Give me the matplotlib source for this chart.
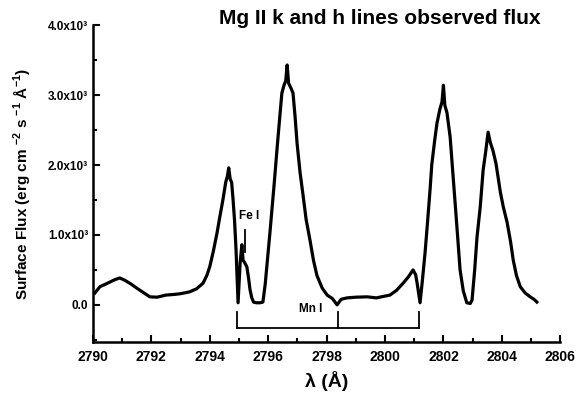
import matplotlib
matplotlib.use("Agg")
import matplotlib.pyplot as plt
from matplotlib.ticker import MultipleLocator, FixedLocator

plt.rcParams['font.family'] = ['Liberation Sans', 'DejaVu Sans']
plt.rcParams['mathtext.fontset'] = 'custom'
plt.rcParams['mathtext.bf'] = 'Liberation Sans:bold'
plt.rcParams['mathtext.rm'] = 'Liberation Sans:bold'

# Observed spectrum
wavelength = [2790.07, 2790.24, 2790.5, 2790.75, 2790.92, 2791.1, 2791.3, 2791.5, 2791.75, 2791.95,
              2792.2, 2792.5, 2792.8, 2793.0, 2793.3, 2793.55, 2793.77, 2793.9, 2794.0, 2794.12,
              2794.25, 2794.35, 2794.45, 2794.55, 2794.6, 2794.65, 2794.7, 2794.75, 2794.8, 2794.85,
              2794.9, 2794.97, 2795.04, 2795.1, 2795.14, 2795.2, 2795.27, 2795.33, 2795.38, 2795.44,
              2795.5, 2795.6, 2795.72, 2795.82, 2795.9, 2796.06, 2796.2, 2796.3, 2796.4, 2796.47,
              2796.55, 2796.6, 2796.65, 2796.7, 2796.78, 2796.85, 2796.92, 2796.99, 2797.09, 2797.2,
              2797.3, 2797.43, 2797.55, 2797.67, 2797.85, 2798.02, 2798.2, 2798.36, 2798.5, 2798.7,
              2799.0, 2799.39, 2799.7, 2800.17, 2800.4, 2800.62, 2800.8, 2800.96, 2801.05, 2801.1,
              2801.2, 2801.28, 2801.37, 2801.45, 2801.55, 2801.6, 2801.7, 2801.78, 2801.88, 2801.95,
              2802.0, 2802.05, 2802.12, 2802.23, 2802.32, 2802.4, 2802.5, 2802.57, 2802.68, 2802.8,
              2802.92, 2802.98, 2803.07, 2803.15, 2803.26, 2803.36, 2803.45, 2803.53, 2803.6, 2803.7,
              2803.8, 2803.87, 2803.95, 2804.05, 2804.18, 2804.3, 2804.39, 2804.5, 2804.63, 2804.8,
              2804.97, 2805.1, 2805.2]
flux = [170, 260, 310, 360, 385, 350, 300, 240, 170, 115,
        110, 140, 150, 160, 185, 230, 310, 420, 545, 760,
        1030, 1270, 1500, 1760, 1830, 1960, 1800, 1750, 1500, 1200,
        790, 30, 600, 860, 640, 600, 545, 380, 215, 100,
        40, 30, 30, 40, 300, 1030, 1700, 2210, 2700, 3030,
        3150, 3200, 3430, 3170, 3100, 3030, 2700, 2310, 1900, 1550,
        1220, 930, 640, 420, 240, 140, 90, 0, 80, 100,
        110, 115, 100, 140, 210, 310, 400, 500, 430, 310,
        30, 350, 740, 1150, 1690, 2000, 2350, 2600, 2800, 2900,
        3140, 2850, 2750, 2400, 1900, 1460, 900, 500, 200, 30,
        20, 70, 500, 970, 1400, 1930, 2200, 2470, 2330, 2200,
        2020, 1830, 1610, 1400, 1180, 900, 640, 420, 260, 170,
        115, 80, 40]

# Mn I marker positions
mn_lines = [2794.93, 2798.39, 2801.16]
fe_line = 2795.2

x_ticks = [2790, 2792, 2794, 2796, 2798, 2800, 2802, 2804, 2806]
y_ticks = [0, 1000, 2000, 3000, 4000]
y_tick_labels = ['0.0', '1.0x10³', '2.0x10³', '3.0x10³', '4.0x10³']

fig = plt.figure(figsize=(5.77, 3.99), dpi=100)
ax = fig.add_axes([0.161, 0.143, 0.810, 0.794])

ax.plot(wavelength, flux, color='black', lw=2.3, solid_joinstyle='round')

# Mn I bracket
for m in mn_lines:
    ax.plot([m, m], [-100, -330], color='black', lw=1.3)
ax.plot([mn_lines[0], mn_lines[-1]], [-330, -330], color='black', lw=1.3)
ax.text(2797.45, -60, 'Mn I', fontsize=8.5, fontweight='bold', ha='center', va='center')

# Fe I marker
ax.plot([fe_line, fe_line], [760, 1070], color='black', lw=1.3)
ax.text(2795.36, 1270, 'Fe I', fontsize=8.5, fontweight='bold', ha='center', va='center')

ax.set_xlim(2790, 2806)
ax.set_ylim(-530, 4000)
ax.xaxis.set_major_locator(FixedLocator(x_ticks))
ax.xaxis.set_minor_locator(MultipleLocator(1))
ax.yaxis.set_major_locator(FixedLocator(y_ticks))
ax.yaxis.set_minor_locator(MultipleLocator(500))
ax.set_xticklabels([str(t) for t in x_ticks], fontsize=10, fontweight='bold')
ax.set_yticklabels(y_tick_labels, fontsize=8.5, fontweight='bold')

for s in ['top', 'right']:
    ax.spines[s].set_visible(False)
for s in ['left', 'bottom']:
    ax.spines[s].set_linewidth(1.8)
ax.tick_params(which='both', direction='in', width=1.5)
ax.tick_params(which='major', length=5)
ax.tick_params(which='minor', length=3)
ax.tick_params(axis='x', pad=6)

ax.set_xlabel('λ (Å)', fontsize=14, fontweight='bold', labelpad=5)
ax.set_ylabel('Surface Flux (erg cm $^{\\mathbf{-2}}$ s $^{\\mathbf{-1}}$ Å$^{\\mathbf{-1}}$)',
              fontsize=11, fontweight='bold', labelpad=11)

fig.text(0.659, 0.953, 'Mg II k and h lines observed flux', fontsize=15,
         fontweight='bold', ha='center', va='center')

fig.savefig('out.png', dpi=100)
